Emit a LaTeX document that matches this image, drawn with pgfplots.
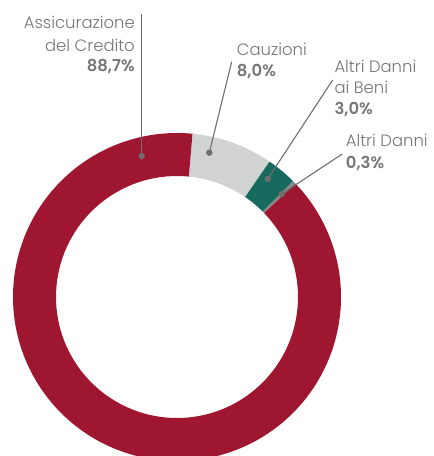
\documentclass[border=0pt]{standalone}
\usepackage{pgfplots}
\pgfplotsset{compat=1.18}
\usepackage{fontspec}
\setmainfont{Poppins}[UprightFont=* Light, BoldFont=* SemiBold]
\definecolor{cRed}{HTML}{9E1630}
\definecolor{cLGrey}{HTML}{D1D3D2}
\definecolor{cGreen}{HTML}{176A5E}
\definecolor{cDGrey}{HTML}{8A8A8A}
\definecolor{cText}{HTML}{767676}
\definecolor{cLine}{HTML}{6E6E6E}
% shares (%)
\def\vAss{88.7}\def\vCau{8.0}\def\vBeni{3.0}\def\vAltri{0.3}
\def\startang{84.5}
\pgfmathsetmacro{\aA}{\startang}
\pgfmathsetmacro{\aB}{\aA-3.6*\vCau}
\pgfmathsetmacro{\aC}{\aB-3.6*\vBeni}
\pgfmathsetmacro{\aD}{\aC-3.6*\vAltri}
\pgfmathsetmacro{\aE}{\aD-3.6*\vAss}
\tikzset{lab/.style={font=\fontsize{16.5}{20}\selectfont, text=cText, inner sep=0pt}}
\begin{document}
\begin{tikzpicture}
\begin{axis}[
  width=434bp, height=456bp, scale only axis,
  xmin=0, xmax=434, ymin=0, ymax=456,
  axis lines=none, clip mode=individual,
]
\def\Rm{142.5}
\addplot[cLGrey, line width=43bp, domain=\aA:\aB, samples=40, line cap=butt] ({177+\Rm*cos(x)},{159+\Rm*sin(x)});
\addplot[cGreen, line width=43bp, domain=\aB:\aC, samples=20, line cap=butt] ({177+\Rm*cos(x)},{159+\Rm*sin(x)});
\addplot[cDGrey, line width=43bp, domain=\aC:\aD, samples=5, line cap=butt] ({177+\Rm*cos(x)},{159+\Rm*sin(x)});
\addplot[cRed, line width=43bp, domain=\aD:\aE, samples=361, line cap=butt] ({177+\Rm*cos(x)},{159+\Rm*sin(x)});
% leader lines
\addplot[cLine, line width=1.1bp, mark=*, mark size=2.6bp, mark indices={2}, mark options={fill=cLine, draw=cLine}] coordinates {(141.7,442) (141.7,300)};
\addplot[cLine, line width=1.1bp, mark=*, mark size=2.6bp, mark indices={2}, mark options={fill=cLine, draw=cLine}] coordinates {(231.7,394.3) (209.3,303.3)};
\addplot[cLine, line width=1.1bp, mark=*, mark size=2.6bp, mark indices={2}, mark options={fill=cLine, draw=cLine}] coordinates {(332.7,376) (267.7,277)};
\addplot[cLine, line width=1.1bp, mark=*, mark size=2.6bp, mark indices={2}, mark options={fill=cLine, draw=cLine}] coordinates {(342.3,302) (281.7,262)};
% labels
\node[lab, anchor=base east] at (axis cs:135,427) {Assicurazione};
\node[lab, anchor=base east] at (axis cs:135,404.3) {del Credito};
\node[lab, anchor=base east] at (axis cs:135,384.3) {\textbf{88,7\%}};
\node[lab, anchor=base west] at (axis cs:236.7,400) {Cauzioni};
\node[lab, anchor=base west] at (axis cs:236.7,379.3) {\textbf{8,0\%}};
\node[lab, anchor=base west] at (axis cs:334.3,383.3) {Altri Danni};
\node[lab, anchor=base west] at (axis cs:334.3,362) {ai Beni};
\node[lab, anchor=base west] at (axis cs:334.3,341) {\textbf{3,0\%}};
\node[lab, anchor=base west] at (axis cs:345.7,309.3) {Altri Danni};
\node[lab, anchor=base west] at (axis cs:345.7,287.7) {\textbf{0,3\%}};
\end{axis}
\pgfresetboundingbox
\path (0,0) rectangle (434bp,456bp);
\end{tikzpicture}
\end{document}
